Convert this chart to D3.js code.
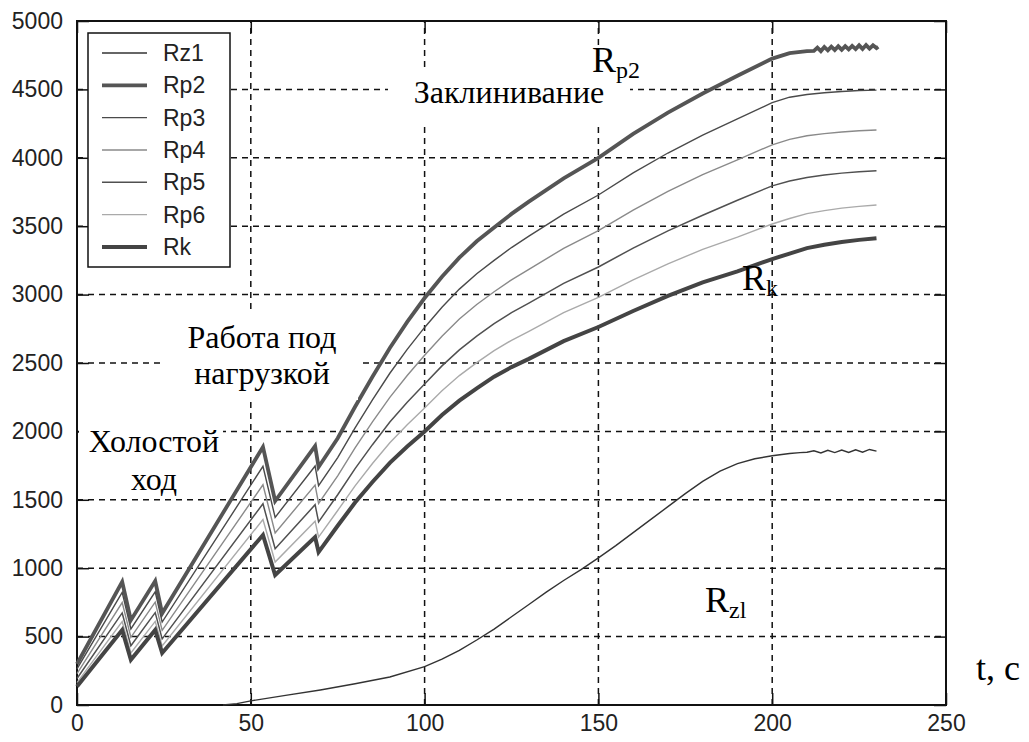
<!DOCTYPE html>
<html>
<head>
<meta charset="utf-8">
<script src="https://cdn.jsdelivr.net/npm/d3@7"></script>
<style>
  body { margin: 0; background: #fff; }
  svg { display: block; }
</style>
</head>
<body>
<div id="chart"></div>
<script>
// time knots shared by the Rp / Rk curves (s)
const times = [0, 13, 15.5, 22.5, 24.5, 53.5, 57, 68.5, 69.5, 75, 80, 85, 90, 95, 100, 105, 110, 115, 120, 125, 130, 140, 150, 160, 170, 180, 190, 200, 205, 210, 215, 220, 225, 230];

const rp2 = [300, 900, 620, 906, 670, 1886, 1491, 1893, 1740, 1950, 2180, 2400, 2610, 2800, 2975, 3130, 3270, 3390, 3490, 3590, 3680, 3850, 4000, 4175, 4330, 4470, 4600, 4725, 4765, 4780, 4790, 4795, 4800, 4800];
const rp3 = [264, 823, 556, 827, 606, 1745, 1372, 1747, 1603, 1809, 2026, 2231, 2425, 2600, 2760, 2908, 3040, 3153, 3250, 3344, 3427, 3588, 3728, 3890, 4035, 4166, 4285, 4403, 4443, 4463, 4476, 4485, 4492, 4495];
const rp4 = [229, 749, 495, 752, 545, 1610, 1258, 1607, 1473, 1675, 1879, 2069, 2249, 2409, 2556, 2696, 2821, 2928, 3021, 3108, 3185, 3338, 3468, 3618, 3754, 3877, 3985, 4095, 4135, 4161, 4177, 4189, 4198, 4203];
const rp5 = [194, 673, 433, 675, 483, 1471, 1142, 1464, 1339, 1537, 1728, 1903, 2068, 2213, 2346, 2479, 2596, 2697, 2787, 2868, 2938, 3082, 3202, 3340, 3466, 3580, 3690, 3795, 3830, 3856, 3874, 3888, 3898, 3905];
const rp6 = [164, 610, 381, 611, 431, 1356, 1045, 1344, 1227, 1422, 1602, 1765, 1917, 2049, 2171, 2297, 2408, 2503, 2591, 2666, 2731, 2868, 2979, 3107, 3224, 3331, 3420, 3516, 3556, 3592, 3614, 3632, 3645, 3655];
const rk  = [135, 548, 330, 548, 380, 1243, 950, 1228, 1118, 1310, 1480, 1630, 1770, 1890, 2000, 2120, 2225, 2315, 2400, 2470, 2530, 2660, 2763, 2880, 2990, 3090, 3170, 3260, 3300, 3340, 3365, 3385, 3400, 3412];

// jamming tail of Rp2 (oscillation)
const rp2TailT = [212, 213, 214, 215, 216, 217, 218, 219, 220, 221, 222, 223, 224, 225, 226, 227, 228, 229, 230, 230.5];
const rp2TailV = [4782, 4805, 4780, 4810, 4786, 4812, 4788, 4815, 4790, 4816, 4792, 4818, 4795, 4822, 4796, 4824, 4798, 4822, 4802, 4812];

// Rz1 curve (own time base)
const rz1T = [42, 46, 50, 60, 70, 80, 90, 100, 105, 110, 115, 120, 125, 130, 135, 140, 145, 150, 155, 160, 165, 170, 175, 180, 185, 190, 195, 200, 205, 208, 210, 212, 214, 216, 218, 220, 222, 224, 226, 228, 230];
const rz1  = [0, 10, 30, 70, 110, 155, 205, 280, 335, 400, 475, 555, 645, 735, 825, 910, 990, 1075, 1165, 1260, 1355, 1450, 1545, 1635, 1710, 1765, 1800, 1822, 1838, 1845, 1848, 1858, 1842, 1862, 1845, 1864, 1846, 1866, 1848, 1868, 1856];

const xTicks = [0, 50, 100, 150, 200, 250];
const yTicks = [0, 500, 1000, 1500, 2000, 2500, 3000, 3500, 4000, 4500, 5000];

const legendNames = ["Rz1", "Rp2", "Rp3", "Rp4", "Rp5", "Rp6", "Rk"];

const width = 1029, height = 742;
const margin = {left: 77, right: 83, top: 21, bottom: 37};

const svg = d3.select("#chart").append("svg")
    .attr("width", width)
    .attr("height", height);

const x = d3.scaleLinear().domain([0, 250]).range([margin.left, width - margin.right]);
const y = d3.scaleLinear().domain([0, 5000]).range([height - margin.bottom, margin.top]);

const x0 = x(0), x1 = x(250), y0 = y(0), y1 = y(5000);

// dashed grid
svg.append("g")
    .selectAll("line")
    .data(xTicks.slice(1, -1))
    .enter().append("line")
    .attr("x1", d => x(d)).attr("x2", d => x(d))
    .attr("y1", y0).attr("y2", y1)
    .attr("stroke", "#111").attr("stroke-width", 1.5)
    .attr("stroke-dasharray", "6,5");

svg.append("g")
    .selectAll("line")
    .data(yTicks.slice(1, -1))
    .enter().append("line")
    .attr("x1", x0).attr("x2", x1)
    .attr("y1", d => y(d)).attr("y2", d => y(d))
    .attr("stroke", "#111").attr("stroke-width", 1.5)
    .attr("stroke-dasharray", "6,5");

// axes (ticks pointing inward, matlab style)
const tickFont = "'Liberation Sans', Arial, sans-serif";

const xAxis = svg.append("g")
    .attr("transform", "translate(0," + y0 + ")")
    .call(d3.axisBottom(x).tickValues(xTicks).tickSize(-12).tickPadding(10).tickFormat(d3.format("d")));
const yAxis = svg.append("g")
    .attr("transform", "translate(" + x0 + ",0)")
    .call(d3.axisLeft(y).tickValues(yTicks).tickSize(-12).tickPadding(26).tickFormat(d3.format("d")));
svg.append("g")
    .attr("transform", "translate(" + x1 + ",0)")
    .call(d3.axisRight(y).tickValues(yTicks).tickSize(-12).tickFormat(""));
svg.append("g")
    .attr("transform", "translate(0," + y1 + ")")
    .call(d3.axisTop(x).tickValues(xTicks).tickSize(-12).tickFormat(""));

svg.selectAll(".domain").remove();
svg.selectAll(".tick line").attr("stroke", "#111").attr("stroke-width", 1.5);
[xAxis, yAxis].forEach(a => a.selectAll("text")
    .attr("font-family", tickFont)
    .attr("font-size", 23)
    .attr("fill", "#222"));
yAxis.selectAll("text").attr("dx", 12);

// frame
svg.append("rect")
    .attr("x", x0).attr("y", y1)
    .attr("width", x1 - x0).attr("height", y0 - y1)
    .attr("fill", "none").attr("stroke", "#111").attr("stroke-width", 2);

// series
const line = d3.line().x(d => x(d[0])).y(d => y(d[1]));

const series = [
    {name: "Rz1", pts: d3.zip(rz1T, rz1), color: "#333", w: 1.4},
    {name: "Rp2", pts: d3.zip(times, rp2).filter(d => d[0] < 212).concat(d3.zip(rp2TailT, rp2TailV)), color: "#555", w: 3.8},
    {name: "Rp3", pts: d3.zip(times, rp3), color: "#4a4a4a", w: 1.4},
    {name: "Rp4", pts: d3.zip(times, rp4), color: "#8a8a8a", w: 1.4},
    {name: "Rp5", pts: d3.zip(times, rp5), color: "#505050", w: 1.5},
    {name: "Rp6", pts: d3.zip(times, rp6), color: "#aaa", w: 1.4},
    {name: "Rk",  pts: d3.zip(times, rk),  color: "#444", w: 4}
];

svg.append("g")
    .selectAll("path")
    .data(series)
    .enter().append("path")
    .attr("d", d => line(d.pts))
    .attr("fill", "none")
    .attr("stroke", d => d.color)
    .attr("stroke-width", d => d.w)
    .attr("stroke-linejoin", "miter");

// annotation text boxes
const serif = "'Liberation Serif', 'Times New Roman', serif";
const notes = [
    {box: [388, 70, 242, 52], lines: [{t: "Заклинивание", x: 509, y: 103}]},
    {box: [163, 314, 195, 86], lines: [{t: "Работа под", x: 262, y: 348}, {t: "нагрузкой", x: 262, y: 384}]},
    {box: [79, 405, 144, 90], lines: [{t: "Холостой", x: 154, y: 452}, {t: "ход", x: 154, y: 490}]}
];
notes.forEach(n => {
    svg.append("rect")
        .attr("x", n.box[0]).attr("y", n.box[1])
        .attr("width", n.box[2]).attr("height", n.box[3])
        .attr("fill", "#fff");
    n.lines.forEach(l => {
        svg.append("text")
            .attr("x", l.x).attr("y", l.y)
            .attr("text-anchor", "middle")
            .attr("font-family", serif)
            .attr("font-size", 32)
            .attr("fill", "#000")
            .text(l.t);
    });
});

// curve labels with subscripts
const curveLabels = [
    {sub: "p2", x: 592, y: 72},
    {sub: "k", x: 742, y: 290},
    {sub: "zl", x: 705, y: 612}
];
curveLabels.forEach(c => {
    const t = svg.append("text")
        .attr("x", c.x).attr("y", c.y)
        .attr("font-family", serif)
        .attr("font-size", 36)
        .attr("fill", "#000")
        .text("R");
    t.append("tspan")
        .attr("font-size", 24)
        .attr("dy", 6)
        .text(c.sub);
});

svg.append("text")
    .attr("x", 976).attr("y", 680)
    .attr("font-family", serif)
    .attr("font-size", 36)
    .attr("fill", "#000")
    .text("t, c");

// legend
const lg = svg.append("g");
lg.append("rect")
    .attr("x", 88).attr("y", 33)
    .attr("width", 142).attr("height", 234)
    .attr("fill", "#fff").attr("stroke", "#111").attr("stroke-width", 1.5);

const legendY = d3.scalePoint().domain(legendNames).range([53, 247]);
const item = lg.selectAll(".item")
    .data(series)
    .enter().append("g")
    .attr("transform", d => "translate(0," + legendY(d.name) + ")");
item.append("line")
    .attr("x1", 102).attr("x2", 147)
    .attr("stroke", d => d.color)
    .attr("stroke-width", d => d.w);
item.append("text")
    .attr("x", 163).attr("dy", "0.35em")
    .attr("font-family", tickFont)
    .attr("font-size", 23)
    .attr("fill", "#222")
    .text(d => d.name);
</script>
</body>
</html>
